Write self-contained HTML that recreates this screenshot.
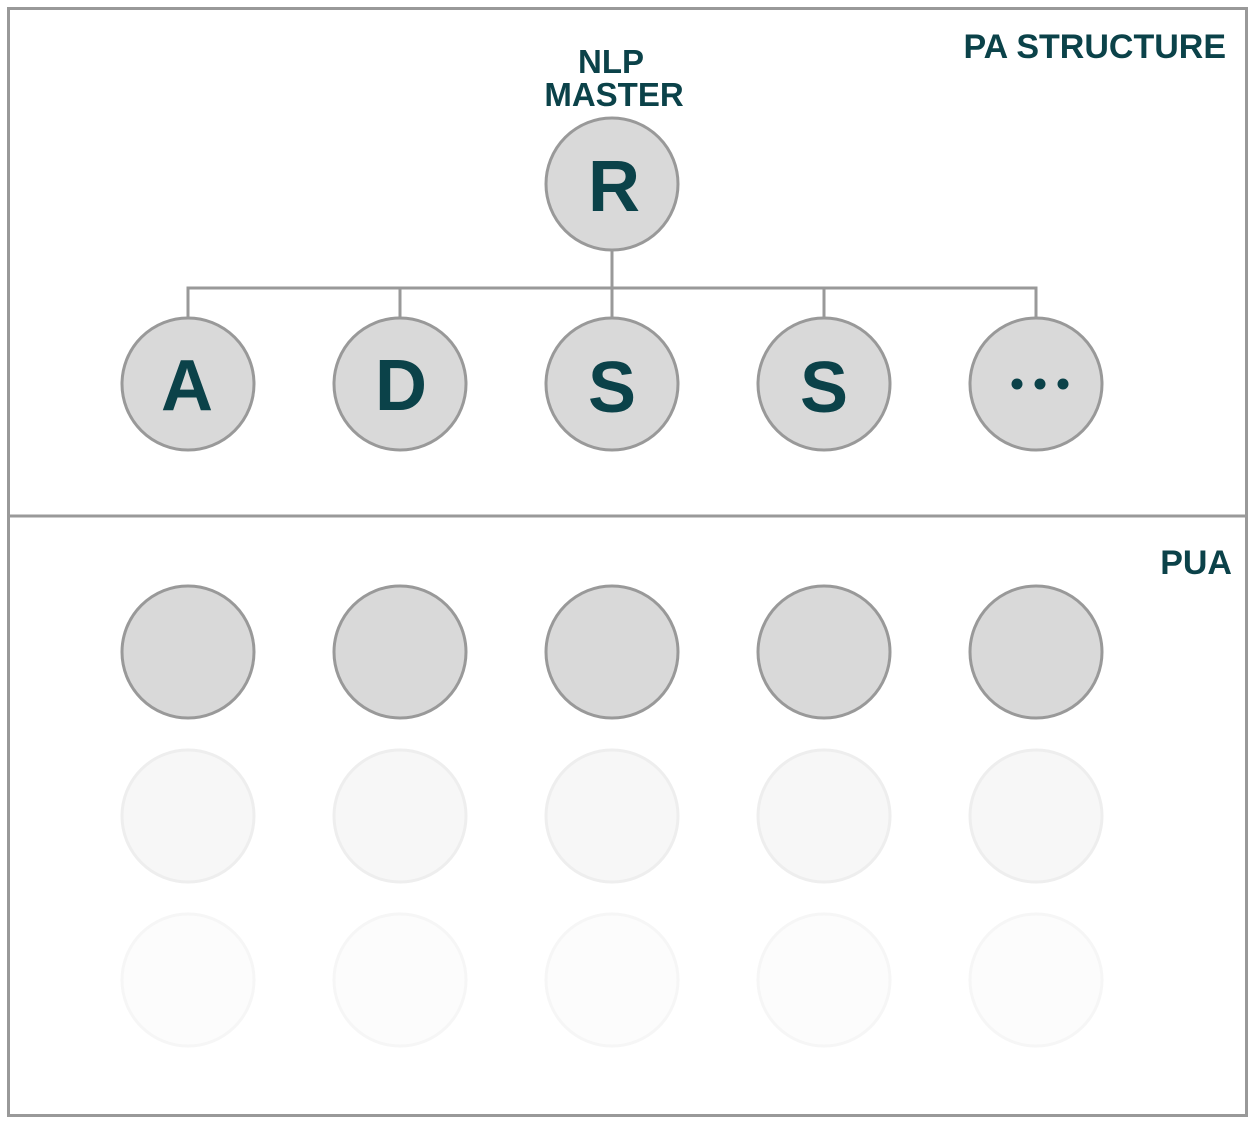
<!DOCTYPE html>
<html><head><meta charset="utf-8"><style>html,body{margin:0;padding:0;background:#fff}svg{display:block}</style></head>
<body>
<svg width="1256" height="1124" viewBox="0 0 1256 1124" xmlns="http://www.w3.org/2000/svg" font-family="'Liberation Sans', sans-serif" font-weight="bold" fill="#0b4249">
<rect x="8.5" y="8.5" width="1238" height="1107" fill="none" stroke="#999" stroke-width="3"/>
<line x1="8" y1="516" x2="1247" y2="516" stroke="#999" stroke-width="3"/>
<text x="1226" y="58" text-anchor="end" font-size="34">PA STRUCTURE</text>
<text x="1232" y="574" text-anchor="end" font-size="34">PUA</text>
<text x="611" y="73" text-anchor="middle" font-size="33">NLP</text>
<text x="614" y="106" text-anchor="middle" font-size="33">MASTER</text>
<g stroke="#999" stroke-width="3" fill="none">
<line x1="612" y1="250" x2="612" y2="318"/>
<polyline points="188,318 188,288 1036,288 1036,318"/>
<line x1="400" y1="288" x2="400" y2="318"/>
<line x1="824" y1="288" x2="824" y2="318"/>
</g>
<g fill="#d9d9d9" stroke="#999" stroke-width="3">
<circle cx="612" cy="184" r="66"/>
<circle cx="188" cy="384" r="66"/><circle cx="400" cy="384" r="66"/><circle cx="612" cy="384" r="66"/><circle cx="824" cy="384" r="66"/><circle cx="1036" cy="384" r="66"/>
<circle cx="188" cy="652" r="66"/><circle cx="400" cy="652" r="66"/><circle cx="612" cy="652" r="66"/><circle cx="824" cy="652" r="66"/><circle cx="1036" cy="652" r="66"/>
</g>
<g fill="#f7f7f7" stroke="#eeeeee" stroke-width="3">
<circle cx="188" cy="816" r="66"/><circle cx="400" cy="816" r="66"/><circle cx="612" cy="816" r="66"/><circle cx="824" cy="816" r="66"/><circle cx="1036" cy="816" r="66"/>
</g>
<g fill="#fcfcfc" stroke="#f6f6f6" stroke-width="3">
<circle cx="188" cy="980" r="66"/><circle cx="400" cy="980" r="66"/><circle cx="612" cy="980" r="66"/><circle cx="824" cy="980" r="66"/><circle cx="1036" cy="980" r="66"/>
</g>
<g font-size="72" text-anchor="middle">
<text x="614" y="211">R</text>
<text x="187" y="410">A</text>
<text x="401" y="410">D</text>
<text x="612" y="412">S</text>
<text x="824" y="412">S</text>
</g>
<circle cx="1017" cy="384" r="5.5"/><circle cx="1040" cy="384" r="5.5"/><circle cx="1063" cy="384" r="5.5"/>
</svg>
</body></html>
